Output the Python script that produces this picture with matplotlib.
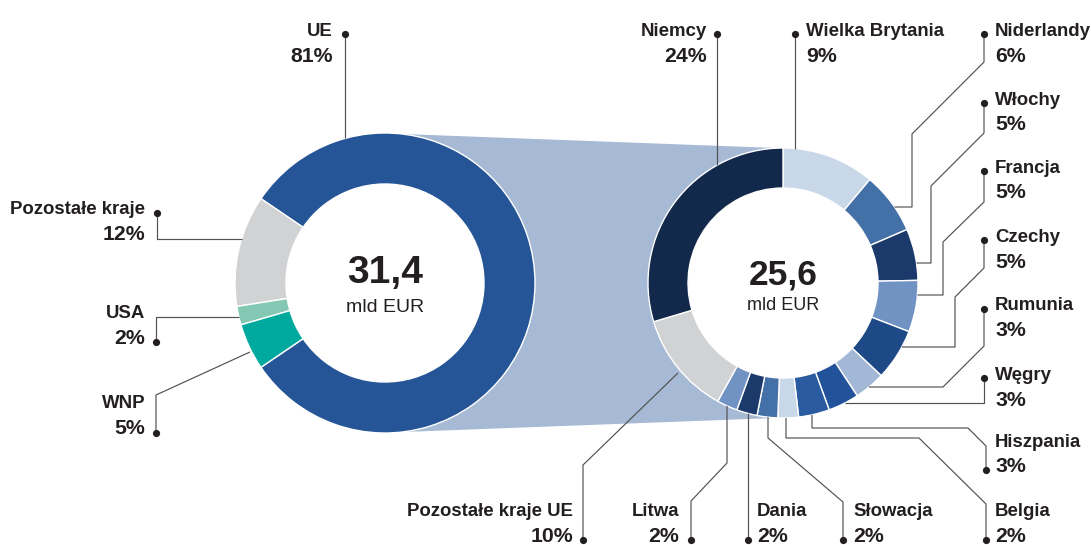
import numpy as np
import matplotlib
matplotlib.use("Agg")
import matplotlib.pyplot as plt
from matplotlib.patches import Polygon, Circle

# ---------------- data ----------------
left_labels = ['UE', 'Pozostałe kraje', 'USA', 'WNP']
left_values = [81, 12, 2, 5]
left_colors = ['#255597', '#d1d2d4', '#84c8b3', '#00a99d']
left_total = '31,4'

right_labels = ['Wielka Brytania', 'Niderlandy', 'Włochy', 'Francja', 'Czechy',
                'Rumunia', 'Węgry', 'Hiszpania', 'Belgia', 'Słowacja', 'Dania',
                'Litwa', 'Pozostałe kraje UE', 'Niemcy']
right_values = [9, 6, 5, 5, 5, 3, 3, 3, 2, 2, 2, 2, 10, 24]
right_colors = ['#c9d8e8', '#4470a8', '#1b3a6b', '#7193c3', '#1d4a86',
                '#a3b8d6', '#22539a', '#2a5ba1', '#c9d8e8', '#4470a8', '#1b3a6b',
                '#7193c3', '#d1d2d4', '#13294b']
right_total = '25,6'
unit = 'mld EUR'

# ---------------- layout (pixels) ----------------
W, H = 1091, 545
LC, LR, LW = (385, 283), 150, 51
RC, RR, RW = (783, 283), 135, 40
BAND = '#a6bad5'
TXT = '#231f20'
LINE = '#505153'
FONT = 'Liberation Sans'
LFS = 13.4
PFS = 15.3

def Y(py):
    return H - py

fig = plt.figure(figsize=(W / 100, H / 100), dpi=100)
ax = fig.add_axes([0, 0, 1, 1])

# connecting band (tangent lines between the two donuts)
d = RC[0] - LC[0]
a = np.arcsin((LR - RR) / d)
lt = (LC[0] - LR * np.sin(a), LC[1] - LR * np.cos(a))
rt = (RC[0] - RR * np.sin(a), RC[1] - RR * np.cos(a))
lb = (LC[0] - LR * np.sin(a), LC[1] + LR * np.cos(a))
rb = (RC[0] - RR * np.sin(a), RC[1] + RR * np.cos(a))
band = Polygon([(lt[0], Y(lt[1])), (rt[0], Y(rt[1])), (RC[0], Y(RC[1])),
                (rb[0], Y(rb[1])), (lb[0], Y(lb[1])), (LC[0], Y(LC[1]))],
               closed=True, fc=BAND, ec='none', zorder=1)
ax.add_patch(band)
ax.add_patch(Circle((LC[0], Y(LC[1])), LR - LW, fc='white', ec='none', zorder=1.5))
ax.add_patch(Circle((RC[0], Y(RC[1])), RR - RW, fc='white', ec='none', zorder=1.5))

start_left = -left_values[0] / sum(left_values) * 180
wl, _ = ax.pie(left_values, colors=left_colors, radius=LR, center=(LC[0], Y(LC[1])),
               startangle=start_left, counterclock=True,
               wedgeprops=dict(width=LW, edgecolor='white', linewidth=1.0))
wr, _ = ax.pie(right_values, colors=right_colors, radius=RR, center=(RC[0], Y(RC[1])),
               startangle=90, counterclock=False,
               wedgeprops=dict(width=RW, edgecolor='white', linewidth=1.0))
for w in wl + wr:
    w.set_zorder(2)

ax.set_xlim(0, W)
ax.set_ylim(0, H)
ax.set_aspect('auto')
ax.axis('off')

# centre texts
ax.text(LC[0], Y(283), left_total, ha='center', va='baseline', fontsize=28,
        fontweight='bold', color=TXT, family=FONT, zorder=5)
ax.text(LC[0], Y(312.5), unit, ha='center', va='baseline', fontsize=14,
        color=TXT, family=FONT, zorder=5)
ax.text(RC[0], Y(284), right_total, ha='center', va='baseline', fontsize=25.5,
        fontweight='bold', color=TXT, family=FONT, zorder=5)
ax.text(RC[0], Y(310), unit, ha='center', va='baseline', fontsize=13,
        color=TXT, family=FONT, zorder=5)

def edge_x(c, r, y, side):
    return c[0] + side * np.sqrt(r ** 2 - (y - c[1]) ** 2)

def edge_y(c, r, x, side):
    return c[1] + side * np.sqrt(r ** 2 - (x - c[0]) ** 2)

# leader specs: (text x, ha, name baseline, path points starting at the dot)
def spec_left():
    return {
        'UE': (333, 'right', 36, [(345, 34), (345, edge_y(LC, LR, 345, -1))]),
        'Pozostałe kraje': (145, 'right', 214, [(157, 213), (157, 239), (edge_x(LC, LR, 239, -1), 239)]),
        'USA': (145, 'right', 318, [(156, 342), (156, 317), (edge_x(LC, LR, 317, -1), 317)]),
        'WNP': (145, 'right', 408, [(156, 433), (156, 395), (250, 352)]),
    }

def spec_right():
    return {
        'Niemcy': (707, 'right', 36, [(717, 34), (717, edge_y(RC, RR, 717, -1))]),
        'Wielka Brytania': (806, 'left', 36, [(795, 34), (795, edge_y(RC, RR, 795, -1))]),
        'Niderlandy': (995, 'left', 36, [(984, 34), (984, 62), (912, 134), (912, 207), (edge_x(RC, RR, 207, 1), 207)]),
        'Włochy': (995, 'left', 105, [(984, 103), (984, 133), (931, 186), (931, 263), (edge_x(RC, RR, 263, 1), 263)]),
        'Francja': (995, 'left', 173, [(984, 171), (984, 202), (943, 242), (943, 295), (edge_x(RC, RR, 295, 1), 295)]),
        'Czechy': (995, 'left', 242, [(984, 240), (984, 268), (955, 297), (955, 347), (edge_x(RC, RR, 347, 1), 347)]),
        'Rumunia': (995, 'left', 310, [(984, 309), (984, 346), (943, 387), (edge_x(RC, RR, 387, 1), 387)]),
        'Węgry': (995, 'left', 380, [(984, 378), (984, 403), (edge_x(RC, RR, 403, 1), 403)]),
        'Hiszpania': (995, 'left', 447, [(986, 470), (986, 446), (968, 428), (812, 428), (812, edge_y(RC, RR, 812, 1))]),
        'Belgia': (995, 'left', 516, [(986, 540), (986, 504), (919, 438), (786, 438), (786, edge_y(RC, RR, 786, 1))]),
        'Słowacja': (853, 'left', 516, [(843, 540), (843, 502), (768, 438), (768, edge_y(RC, RR, 768, 1))]),
        'Dania': (757, 'left', 516, [(748, 540), (748, edge_y(RC, RR, 748, 1))]),
        'Litwa': (679, 'right', 516, [(691, 540), (691, 501), (727, 463), (727, edge_y(RC, RR, 727, 1))]),
        'Pozostałe kraje UE': (573, 'right', 516, [(583, 540), (583, 465), (678, 373)]),
    }

LS = 25.5

def draw(labels, values, specs):
    for lab, val in zip(labels, values):
        tx, ha, base, path = specs[lab]
        xs = [p[0] for p in path]
        ys = [Y(p[1]) for p in path]
        ax.plot(xs, ys, color=LINE, lw=0.85, solid_capstyle='butt', zorder=3)
        ax.plot([xs[0]], [ys[0]], 'o', color=TXT, ms=5.2, mec='none', zorder=4)
        ax.text(tx, Y(base), lab, ha=ha, va='baseline', fontsize=LFS,
                fontweight='bold', color=TXT, family=FONT, zorder=5)
        ax.text(tx, Y(base + LS), f'{val}%', ha=ha, va='baseline', fontsize=PFS,
                fontweight='bold', color=TXT, family=FONT, zorder=5)

draw(left_labels, left_values, spec_left())
draw(right_labels, right_values, spec_right())

fig.savefig('out.png', dpi=100, facecolor='white')
